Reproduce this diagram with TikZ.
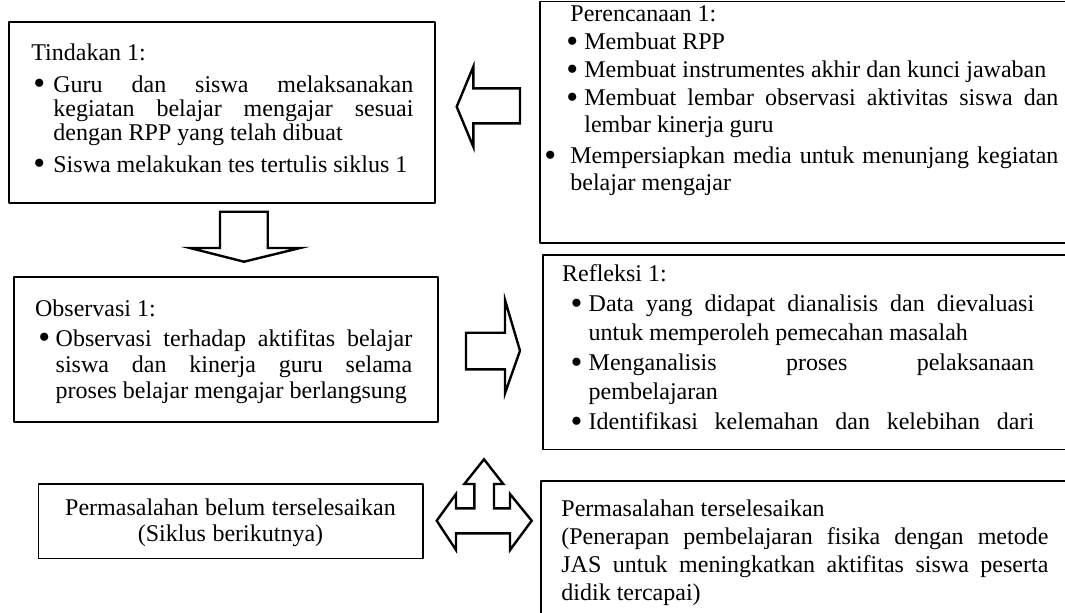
\documentclass[tikz,border=0pt]{standalone}
\usepackage{fontspec}
\setmainfont{Liberation Serif}
\hyphenpenalty=10000
\exhyphenpenalty=10000
\newlength\itmgap
\newcommand{\lead}[1]{\fontsize{12}{#1}\selectfont}
\newcommand{\bdot}{\smash{\raisebox{-1.4pt}{\fontsize{17}{14}\selectfont\textbullet}}}
\newcommand{\bul}[3]{\par\vspace{\itmgap}\hangindent=#2\hangafter=1\noindent\hspace*{#2}\llap{\makebox[\dimexpr#2-(#1)\relax][l]{\bdot}}#3\par}
\begin{document}
\begin{tikzpicture}[x=0.5pt, y=-0.5pt, line join=round, line cap=round,
    frame/.style={line width=0.8pt},
    blk/.style={line width=1.2pt, line join=miter},
    txt/.style={anchor=base west, inner sep=0pt, align=justify}]
    \def\W{1065} \def\H{612}
    \useasboundingbox (0,0) rectangle (\W,\H);
    \clip (0,0) rectangle (\W,\H);
    \draw[frame] (9,22) rectangle (435,203);
    \draw[frame] (540,1.5) rectangle (1075,243);
    \draw[frame] (14,277) rectangle (438,422);
    \draw[frame] (543,255) rectangle (1075,449.5);
    \draw[frame] (38.5,484) rectangle (422.7,558.3);
    \draw[frame] (541,481) rectangle (1075,625);
    \node[txt, text width=191pt] (tindakan) at (31,60) {\lead{12}\setlength\itmgap{4pt}Tindakan 1:\bul{1pt}{11pt}{Guru dan siswa melaksanakan kegiatan belajar mengajar sesuai dengan RPP yang telah dibuat}\bul{1pt}{11pt}{Siswa melakukan tes tertulis siklus 1}};
    \node[txt, text width=244pt] (rencana) at (570,21) {\lead{13.5}\setlength\itmgap{0.6pt}Perencanaan 1:\bul{-2pt}{7pt}{Membuat RPP}\bul{-2pt}{7pt}{Membuat instrumentes akhir dan kunci jawaban}\bul{-2pt}{7pt}{Membuat lembar observasi aktivitas siswa dan lembar kinerja guru}\setlength\itmgap{2pt}\bul{-13pt}{0pt}{Mempersiapkan media untuk menunjang kegiatan belajar mengajar}};
    \node[txt, text width=188.6pt] (observasi) at (34.7,316) {\lead{13}\setlength\itmgap{2pt}Observasi 1:\bul{1.6pt}{10.3pt}{Observasi terhadap aktifitas belajar siswa dan kinerja guru selama\linebreak proses belajar mengajar berlangsung}};
    \node[txt, text width=236pt] (refleksi) at (561.7,281) {\lead{14.4}\setlength\itmgap{0.8pt}Refleksi 1:\bul{4.2pt}{13.3pt}{Data yang didapat dianalisis dan dievaluasi untuk memperoleh pemecahan masalah}\bul{4.2pt}{13.3pt}{Menganalisis proses pelaksanaan\linebreak pembelajaran}\bul{4.2pt}{13.3pt}{\makebox[\dimexpr\linewidth-13.3pt][s]{Identifikasi kelemahan dan kelebihan dari}}};
    \node[txt, text width=243.5pt] (selesai) at (561,516) {\lead{14}Permasalahan terselesaikan\par(Penerapan pembelajaran fisika dengan metode JAS untuk meningkatkan aktifitas siswa peserta didik tercapai)\par};
    \node[anchor=base, inner sep=0pt, align=center, text width=190pt] (belum) at (230.5,515) {\lead{13}Permasalahan belum terselesaikan\\(Siklus berikutnya)\par};
    \draw[blk] (520,88.3) -- (473.3,88.3) -- (473.3,66.7) -- (456.7,106.7) -- (473.3,146.7) -- (473.3,123.3) -- (520,123.3) -- cycle;
    \draw[blk] (220,211.7) -- (267.7,211.7) -- (267.7,248) -- (300,248) -- (244,261.7) -- (190,248) -- (220,248) -- cycle;
    \draw[blk] (466,332.7) -- (505,332.7) -- (505,300) -- (520,350.7) -- (505,393.3) -- (505,369.3) -- (466,369.3) -- cycle;
    \draw[blk] (484,459.3) -- (503.3,484) -- (494,484) -- (494,508.3) -- (510,508.3) -- (510,494) -- (531.7,520.7) -- (510,550) -- (510,533.3) -- (456,533.3) -- (456,550) -- (436.7,520.7) -- (456,494) -- (456,508.3) -- (474.3,508.3) -- (474.3,484) -- (464.3,484) -- cycle;
\end{tikzpicture}
\end{document}
